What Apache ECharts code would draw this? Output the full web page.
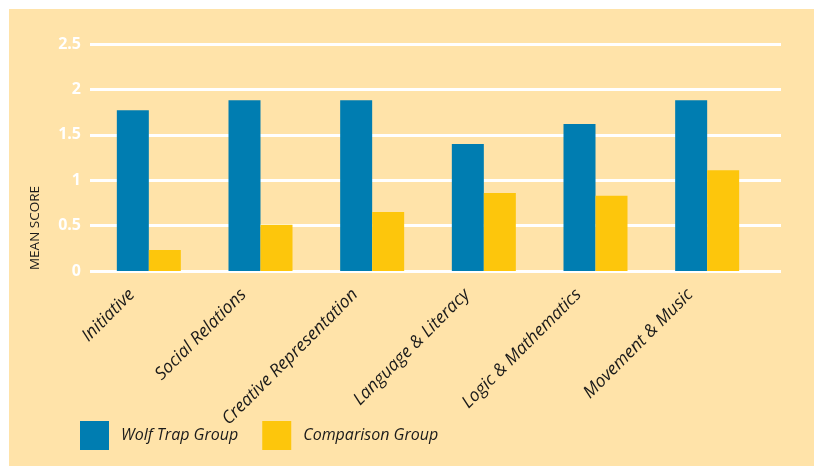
<!DOCTYPE html>
<html>
<head>
<meta charset="utf-8">
<script src="https://cdn.jsdelivr.net/npm/echarts@6/dist/echarts.min.js"></script>
<style>
html,body{margin:0;padding:0;background:#fff;}
#c{width:814px;height:466px;}
</style>
</head>
<body>
<div id="c"></div>
<script>
const categories = ["Initiative", "Social Relations", "Creative Representation", "Language & Literacy", "Logic & Mathematics", "Movement & Music"];
const wolfTrap = [1.77, 1.88, 1.88, 1.40, 1.62, 1.88];
const comparison = [0.23, 0.51, 0.65, 0.86, 0.83, 1.11];
const seriesNames = ["Wolf Trap Group", "Comparison Group"];
const yTicks = [0, 0.5, 1, 1.5, 2, 2.5];

const FONT = "'Open Sans', 'Noto Sans', sans-serif";
const chart = echarts.init(document.getElementById('c'), null, {renderer: 'canvas'});
chart.setOption({
  backgroundColor: '#fff',
  animation: false,
  graphic: [
    {type: 'rect', z: -10, shape: {x: 9, y: 9, width: 805, height: 457}, style: {fill: '#FFE3A9'}},
    {type: 'text', x: 35, y: 228, rotation: Math.PI / 2, z: 10,
     style: {text: 'MEAN SCORE', fill: '#1a1a1a', font: "13.5px 'Open Sans', sans-serif", align: 'center', verticalAlign: 'middle'}}
  ],
  grid: [
    {left: 93, right: 51, top: 44, bottom: 195},
    {left: 90, right: 33, top: 44, bottom: 195}
  ],
  legend: {
    left: 80, top: 421, padding: 0,
    itemWidth: 29, itemHeight: 29, itemGap: 24,
    icon: 'rect',
    data: seriesNames,
    textStyle: {fontFamily: FONT, fontStyle: 'italic', fontSize: 16, color: '#1a1a1a', padding: [12, 0, 0, 7]}
  },
  xAxis: [
    {type: 'category', gridIndex: 0, data: categories,
     axisLine: {show: false}, axisTick: {show: false},
     axisLabel: {rotate: 45, margin: 4, interval: 0, fontFamily: FONT, fontStyle: 'italic', fontSize: 17.5, color: '#1a1a1a', padding: [0, 24, 60, 0]}},
    {type: 'value', gridIndex: 1, min: 0, max: 1, show: false}
  ],
  yAxis: [
    {type: 'value', gridIndex: 0, min: 0, max: 2.5, interval: 0.5, show: false, splitLine: {show: false}},
    {type: 'value', gridIndex: 1, min: 0, max: 2.5, interval: 0.5,
     axisLine: {show: false}, axisTick: {show: false},
     axisLabel: {margin: 9, color: '#fff', fontFamily: FONT, fontWeight: 'bold', fontSize: 16,
       formatter: v => String(v)},
     splitLine: {show: true, lineStyle: {color: '#fff', width: 3}}}
  ],
  series: [
    {name: seriesNames[0], type: 'bar', xAxisIndex: 0, yAxisIndex: 0, data: wolfTrap, barWidth: 32, barGap: '0%', itemStyle: {color: '#007DB1'}, z: 5},
    {name: seriesNames[1], type: 'bar', xAxisIndex: 0, yAxisIndex: 0, data: comparison, barWidth: 32, barGap: '0%', itemStyle: {color: '#FDC60C'}, z: 5}
  ]
});
</script>
</body>
</html>
